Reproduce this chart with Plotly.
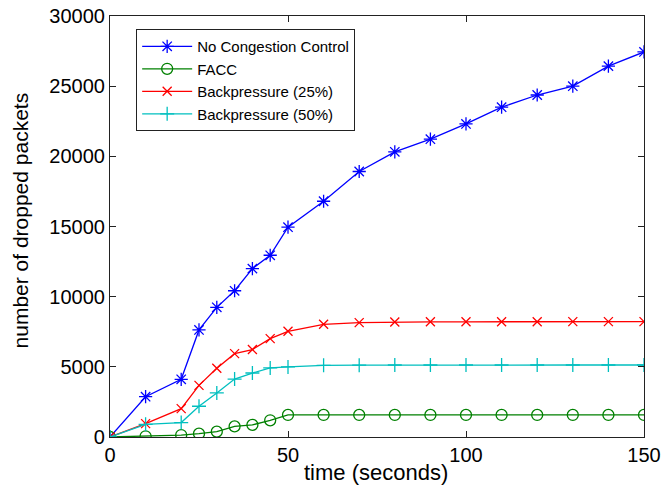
import plotly.graph_objects as go

time = [0, 10, 20, 25, 30, 35, 40, 45, 50, 60, 70, 80, 90, 100, 110, 120, 130, 140, 150]
no_cc = [0, 2870, 4110, 7630, 9240, 10420, 12000, 12950, 14950, 16800, 18920, 20320, 21220, 22310, 23500, 24370, 25000, 26430, 27440]
facc = [0, 50, 140, 240, 380, 760, 860, 1190, 1570, 1570, 1570, 1570, 1570, 1570, 1570, 1570, 1570, 1570, 1570]
bp25 = [0, 955, 2020, 3680, 4900, 5940, 6230, 7010, 7530, 8030, 8150, 8200, 8210, 8210, 8210, 8210, 8220, 8220, 8220]
bp50 = [0, 905, 1030, 2190, 3140, 4130, 4560, 4920, 4990, 5110, 5120, 5130, 5130, 5130, 5130, 5130, 5130, 5130, 5130]

x_ticks = [0, 50, 100, 150]
y_ticks = [0, 5000, 10000, 15000, 20000, 25000, 30000]
y_tick_labels = ["0", "5000", "10000", "15000", "20000", "25000", "30000"]

names = ["No Congestion Control", "FACC", "Backpressure (25%)", "Backpressure (50%)"]
colors = ["#0000ff", "#008000", "#ff0000", "#00bfbf"]
symbols = ["asterisk-open", "circle-open", "x-thin-open", "cross-thin-open"]
sizes = [11, 11, 9, 10]
series = [no_cc, facc, bp25, bp50]

FONT = "Liberation Sans, Arial, sans-serif"

fig = go.Figure()
for name, ys, c, s, sz in zip(names, series, colors, symbols, sizes):
    fig.add_trace(go.Scatter(
        x=time, y=ys, mode="lines+markers", name=name,
        line=dict(color=c, width=1.3),
        marker=dict(symbol=s, size=sz, color=c, line=dict(color=c, width=1.3)),
    ))

axis_common = dict(
    showline=True, linecolor="#222222", linewidth=1.2, mirror="allticks",
    ticks="inside", ticklen=6, tickcolor="#222222", showgrid=False, zeroline=False,
    automargin=False,
    tickfont=dict(family=FONT, size=20, color="black"),
)

fig.update_layout(
    width=664, height=486,
    margin=dict(l=110, r=20, t=16, b=49),
    paper_bgcolor="white", plot_bgcolor="white",
    font=dict(family=FONT, color="black"),
    xaxis=dict(range=[0, 150], tickvals=x_ticks, ticktext=[str(v) for v in x_ticks], **axis_common),
    yaxis=dict(range=[0, 30000], tickvals=y_ticks, ticktext=y_tick_labels, **axis_common),
    legend=dict(x=0.049, y=0.969, xanchor="left", yanchor="top",
                bordercolor="#222222", borderwidth=1, bgcolor="white",
                itemwidth=50,
                font=dict(family=FONT, size=15, color="black"), tracegroupgap=0),
    showlegend=True,
    annotations=[
        dict(text="time (seconds)", xref="paper", yref="paper", x=0.498, y=-0.0855,
             xanchor="center", yanchor="middle", showarrow=False,
             font=dict(family=FONT, size=22, color="black")),
        dict(text="number of dropped packets", xref="paper", yref="paper", x=-0.168, y=0.515,
             xanchor="center", yanchor="middle", showarrow=False, textangle=-90,
             font=dict(family=FONT, size=21, color="black")),
    ],
)

fig.write_html(
    "out.html",
    config={"displayModeBar": False},
    post_script="document.body.style.margin='0';document.body.style.overflow='hidden';",
)
